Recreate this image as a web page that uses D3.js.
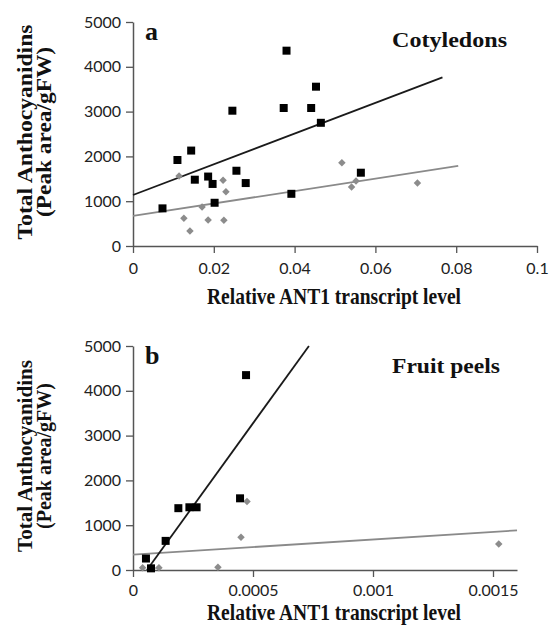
<!DOCTYPE html>
<html>
<head>
<meta charset="utf-8">
<script src="https://cdn.jsdelivr.net/npm/d3@7"></script>
<style>
  body { margin: 0; background: #fff; }
  .tick text { font-family: Lato, "Open Sans", sans-serif; font-size: 16px; fill: #222; }
  .ttl { font-family: "Liberation Serif", "DejaVu Serif", serif; font-weight: bold; fill: #111; }
</style>
</head>
<body>
<svg id="chart"></svg>
<script>
//panel a - cotyledons
const cotBlack = [[0.0073, 840], [0.011, 1920], [0.0144, 2130], [0.0153, 1480], [0.0186, 1550],
  [0.0197, 1385], [0.0202, 965], [0.0246, 3020], [0.0256, 1680], [0.0279, 1405], [0.0373, 3080],
  [0.038, 4360], [0.0392, 1165], [0.0441, 3080], [0.0453, 3556], [0.0465, 2750], [0.0564, 1636]];
const cotGrey = [[0.0114, 1560], [0.0126, 618], [0.0141, 335], [0.0171, 870], [0.0186, 580],
  [0.0223, 1466], [0.023, 1212], [0.0225, 573], [0.0517, 1860], [0.0541, 1317], [0.0552, 1451],
  [0.0704, 1406]];
const cotTrendBlack = { intercept: 1138, slope: 34300, x0: 0, x1: 0.0766 };
const cotTrendGrey = { intercept: 670, slope: 13900, x0: 0, x1: 0.0805 };
const cotXTicks = [0, 0.02, 0.04, 0.06, 0.08, 0.1];

//panel b - fruit peels
const peelBlack = [[0.000054, 256], [0.000075, 37], [0.000136, 650], [0.000189, 1380],
  [0.000235, 1400], [0.000265, 1400], [0.000446, 1600], [0.000471, 4350]];
const peelGrey = [[0.00004, 50], [0.00008, 40], [0.000108, 50], [0.000354, 60],
  [0.00045, 730], [0.000475, 1530], [0.001524, 580]];
const peelTrendBlack = { intercept: -430, slope: 7410000, x0: 0.000058, x1: 0.000733 };
const peelTrendGrey = { intercept: 343, slope: 339000, x0: 0, x1: 0.0016 };
const peelXTicks = [0, 0.0005, 0.001, 0.0015];

const yTicks = [0, 1000, 2000, 3000, 4000, 5000];

const W = 555, H = 630;
const svg = d3.select('#chart').attr('width', W).attr('height', H);

const fmt = d => d === 0 ? '0' : String(+d.toFixed(5));

function drawPanel(p) {
  const x = d3.scaleLinear().domain(p.xDomain).range([133, p.xEnd]);
  const y = d3.scaleLinear().domain([0, 5000]).range([p.yBottom, p.yBottom - 224]);
  const g = svg.append('g');

  //axes
  const xAxis = g.append('g')
    .attr('transform', `translate(0,${p.yBottom})`)
    .call(d3.axisBottom(x).tickValues(p.xTicks).tickFormat(fmt).tickSize(7).tickSizeOuter(0));
  xAxis.select('.domain').attr('stroke', '#555').attr('stroke-width', 1.5);
  xAxis.selectAll('.tick line').attr('stroke', '#555').attr('stroke-width', 1.3);
  xAxis.selectAll('.tick text').attr('y', p.tickGap).attr('dy', '0.71em');

  const yAxis = g.append('g')
    .attr('transform', 'translate(133,0)')
    .call(d3.axisLeft(y).tickValues(yTicks).tickFormat(d3.format('d')).tickSize(7).tickSizeOuter(0));
  yAxis.select('.domain').attr('stroke', '#555').attr('stroke-width', 1.5);
  yAxis.selectAll('.tick line').attr('stroke', '#555').attr('stroke-width', 1.3);
  yAxis.selectAll('.tick text').attr('x', -12);

  //trend lines
  [[p.trendGrey, '#8a8a8a'], [p.trendBlack, '#1a1a1a']].forEach(([t, c]) => {
    g.append('line')
      .attr('x1', x(t.x0)).attr('y1', y(t.intercept + t.slope * t.x0))
      .attr('x2', x(t.x1)).attr('y2', y(t.intercept + t.slope * t.x1))
      .attr('stroke', c).attr('stroke-width', 1.8);
  });

  //points
  g.selectAll('.grey').data(p.grey).enter().append('path')
    .attr('d', d3.symbol(d3.symbolSquare, 28)())
    .attr('transform', d => `translate(${x(d[0])},${y(d[1])}) rotate(45)`)
    .attr('fill', '#8c8c8c');
  g.selectAll('.black').data(p.black).enter().append('path')
    .attr('d', d3.symbol(d3.symbolSquare, 64)())
    .attr('transform', d => `translate(${x(d[0])},${y(d[1])})`)
    .attr('fill', '#000');

  //labels
  g.append('text').attr('class', 'ttl').attr('x', 145).attr('y', p.yBottom - 206)
    .style('font-size', '26px').text(p.letter);
  g.append('text').attr('class', 'ttl').attr('x', 392).attr('y', p.yBottom - p.nameOff)
    .style('font-size', '22px')
    .attr('textLength', p.nameLen).attr('lengthAdjust', 'spacingAndGlyphs')
    .text(p.name);
  g.append('text').attr('class', 'ttl').attr('x', 334).attr('y', p.yBottom + p.titleGap)
    .attr('text-anchor', 'middle').style('font-size', '24px')
    .attr('textLength', 254).attr('lengthAdjust', 'spacingAndGlyphs')
    .text('Relative ANT1 transcript level');
  const yt = g.append('g').attr('transform', `translate(0,${p.yBottom - 114}) rotate(-90)`);
  yt.append('text').attr('class', 'ttl').attr('x', 0).attr('y', 32)
    .attr('text-anchor', 'middle').style('font-size', p.yFont + 'px')
    .attr('textLength', p.yLen1).attr('lengthAdjust', 'spacingAndGlyphs')
    .text('Total Anthocyanidins');
  yt.append('text').attr('class', 'ttl').attr('x', 0).attr('y', 51)
    .attr('text-anchor', 'middle').style('font-size', p.yFont + 'px')
    .attr('textLength', p.yLen2).attr('lengthAdjust', 'spacingAndGlyphs')
    .text('(Peak area/gFW)');
}

drawPanel({ xDomain: [0, 0.1], xEnd: 537, yBottom: 246, xTicks: cotXTicks,
  black: cotBlack, grey: cotGrey, trendBlack: cotTrendBlack, trendGrey: cotTrendGrey,
  letter: 'a', name: 'Cotyledons', nameOff: 199, nameLen: 115, tickGap: 17, titleGap: 58,
  yFont: 21, yLen1: 215, yLen2: 170 });
drawPanel({ xDomain: [0, 0.0016], xEnd: 517, yBottom: 570, xTicks: peelXTicks,
  black: peelBlack, grey: peelGrey, trendBlack: peelTrendBlack, trendGrey: peelTrendGrey,
  letter: 'b', name: 'Fruit peels', nameOff: 197, nameLen: 108, tickGap: 15, titleGap: 50,
  yFont: 20, yLen1: 192, yLen2: 146 });
</script>
</body>
</html>
